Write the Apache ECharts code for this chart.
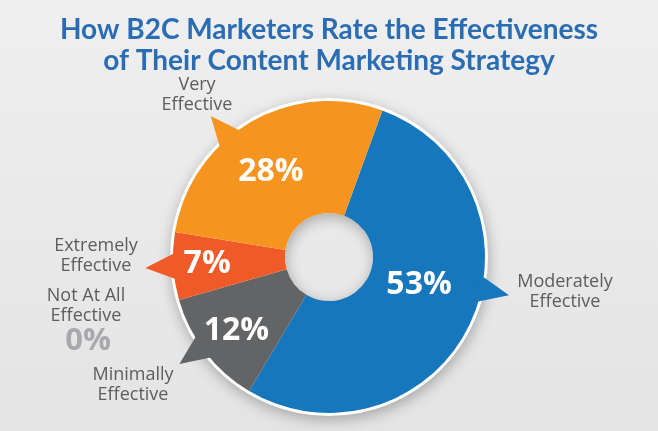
<!DOCTYPE html>
<html><head><meta charset="utf-8">
<script src="https://cdn.jsdelivr.net/npm/echarts@6/dist/echarts.min.js"></script>
<style>html,body{margin:0;padding:0;background:#e9e9e9}#c{width:658px;height:431px}</style>
</head><body><div id="c"></div>
<script>
// ---- data ----
const titleLines = ['How B2C Marketers Rate the Effectiveness', 'of Their Content Marketing Strategy'];
const categories = ['Moderately\nEffective', 'Minimally\nEffective', 'Extremely\nEffective', 'Very\nEffective', 'Not At All\nEffective'];
const values = [53, 12, 7, 28, 0];

// ---- styles ----
const colors = ['#1777bd', '#636466', '#f05a28', '#f5951f', '#a7a9ac'];
const pointerOffsetDeg = [-13.4, 2, 0, -9.6, 0];
const outerLabelPos = [[565, 292], [133, 385], [96, 256], [197, 95], [86, 306]];
const insideOffset = [[-3, -16], [-11, 11], [-19, 1], [-6, 4], [0, 0]];
const CX = 329, CY = 257, R0 = 44, R = 156;

const chart = echarts.init(document.getElementById('c'));
const pieData = values.map((v, i) => ({
  name: categories[i], value: v,
  itemStyle: { color: colors[i] },
  label: { show: v > 0, offset: insideOffset[i] }
}));

chart.setOption({
  backgroundColor: { type: 'linear', x: 0, y: 0, x2: 0, y2: 1,
    colorStops: [{ offset: 0, color: '#efefef' }, { offset: 1, color: '#e4e4e4' }] },
  title: {
    text: titleLines.join('\n'), left: 'center', top: 9,
    textStyle: { fontFamily: 'Lato', fontWeight: 'bold', fontSize: 28, lineHeight: 31, color: '#2a6db4' }
  },
  series: [
    { type: 'pie', silent: true, center: [CX, CY], radius: [R0, R + 3], data: [{ value: 1 }],
      itemStyle: { color: '#ffffff', shadowBlur: 14, shadowOffsetY: 4, shadowOffsetX: 1, shadowColor: 'rgba(0,0,0,0.28)' },
      label: { show: false }, labelLine: { show: false }, z: 1, animation: false },
    { type: 'pie', silent: true, center: [CX, CY], radius: [R0, R], startAngle: 70, clockwise: true,
      data: pieData, animation: false,
      label: { position: 'inside', formatter: '{c}%', color: '#ffffff', fontFamily: 'Open Sans', fontWeight: 'bold', fontSize: 32 },
      labelLine: { show: false }, z: 2 }
  ]
});

// pointers from the library's own sector layout
const sd = chart.getModel().getSeriesByIndex(1).getData();
const elements = [];
values.forEach((v, i) => {
  if (v <= 0) return;
  const lay = sd.getItemLayout(i);
  const mid = (lay.startAngle + lay.endAngle) / 2 + pointerOffsetDeg[i] * Math.PI / 180;
  const half = 5.8 * Math.PI / 180;
  const pt = (a, r) => [lay.cx + r * Math.cos(a), lay.cy + r * Math.sin(a)];
  elements.push({ type: 'polygon', z: 100, silent: true,
    shape: { points: [pt(mid - half, lay.r - 6), pt(mid, lay.r + 28), pt(mid + half, lay.r - 6)] },
    style: { fill: colors[i] } });
});
categories.forEach((c, i) => {
  elements.push({ type: 'text', z: 100, silent: true, x: outerLabelPos[i][0], y: outerLabelPos[i][1],
    style: { text: c, fill: '#5c5d60', font: '18px "Open Sans"', lineHeight: 20, align: 'center', verticalAlign: 'middle' } });
});
elements.push({ type: 'text', z: 100, silent: true, x: 88, y: 341,
  style: { text: values[4] + '%', fill: '#a7a9ac', font: 'bold 31px "Open Sans"', align: 'center', verticalAlign: 'middle' } });
chart.setOption({ graphic: { elements } });
</script></body></html>
